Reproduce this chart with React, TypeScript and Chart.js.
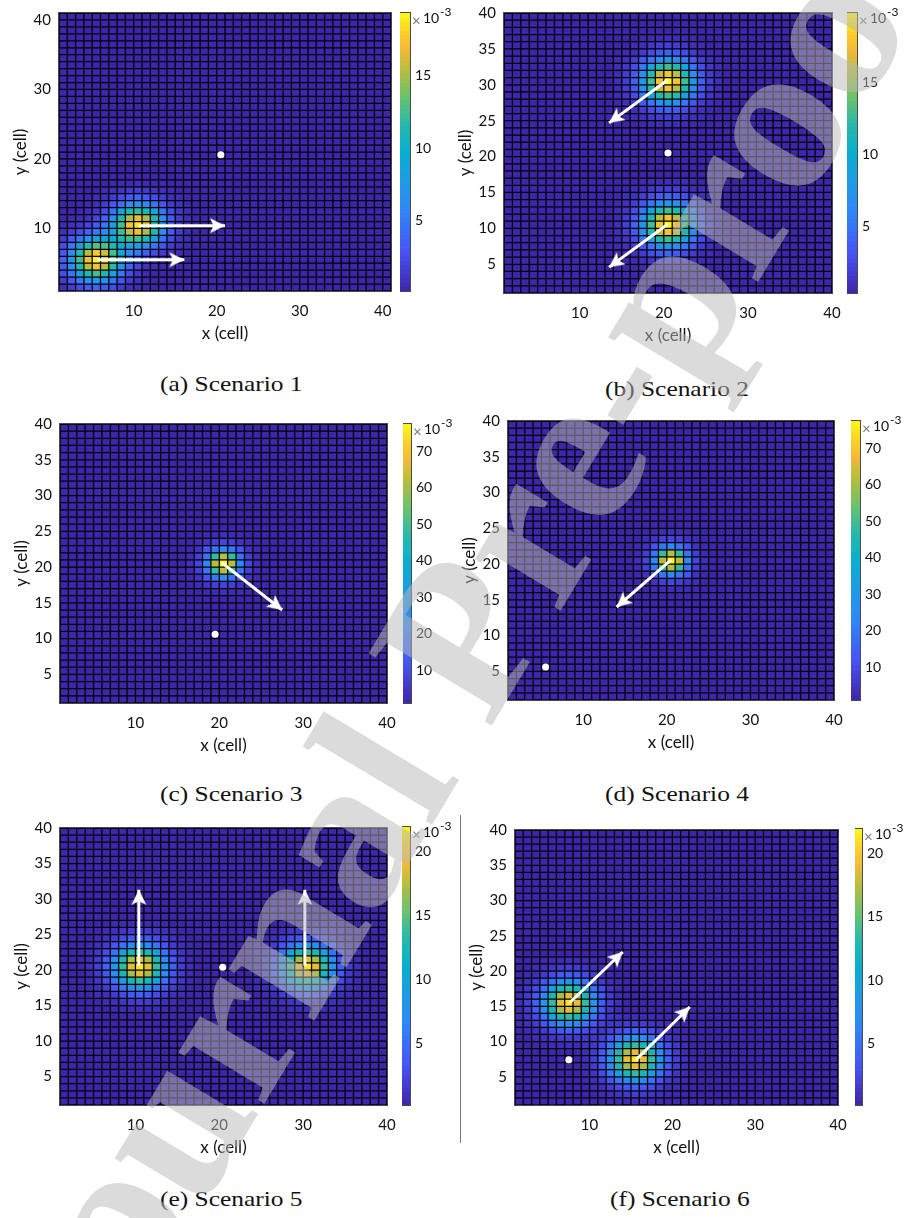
import React, { useEffect, useRef } from "react";
import Chart from "chart.js/auto";

const parulaStops: number[][] = [
  [0, 62, 38, 168], [0.14, 72, 82, 244], [0.29, 46, 135, 247], [0.4, 30, 155, 228],
  [0.5, 6, 174, 207], [0.6, 38, 186, 171], [0.7, 107, 194, 107], [0.8, 186, 189, 61],
  [0.87, 242, 186, 56], [0.93, 252, 207, 41], [1, 249, 251, 21],
];

// Share of a blob's peak, read cell by cell around its brightest cell.
const wideBlob: number[][] = [
  [0, 0, 0, 0.01, 0.02, 0.02, 0.03, 0.02, 0.02, 0.01, 0, 0, 0],
  [0, 0, 0.02, 0.03, 0.05, 0.07, 0.08, 0.07, 0.05, 0.03, 0.02, 0, 0],
  [0, 0.02, 0.03, 0.07, 0.12, 0.16, 0.19, 0.16, 0.12, 0.07, 0.03, 0.02, 0],
  [0.01, 0.03, 0.07, 0.15, 0.24, 0.33, 0.38, 0.33, 0.24, 0.15, 0.07, 0.03, 0.01],
  [0.02, 0.05, 0.12, 0.24, 0.44, 0.58, 0.64, 0.58, 0.44, 0.24, 0.12, 0.05, 0.02],
  [0.02, 0.07, 0.16, 0.33, 0.58, 0.8, 0.89, 0.8, 0.58, 0.33, 0.16, 0.07, 0.02],
  [0.03, 0.08, 0.19, 0.38, 0.64, 0.89, 1, 0.89, 0.64, 0.38, 0.19, 0.08, 0.03],
  [0.02, 0.07, 0.16, 0.33, 0.58, 0.8, 0.89, 0.8, 0.58, 0.33, 0.16, 0.07, 0.02],
  [0.02, 0.05, 0.12, 0.24, 0.44, 0.58, 0.64, 0.58, 0.44, 0.24, 0.12, 0.05, 0.02],
  [0.01, 0.03, 0.07, 0.15, 0.24, 0.33, 0.38, 0.33, 0.24, 0.15, 0.07, 0.03, 0.01],
  [0, 0.02, 0.03, 0.07, 0.12, 0.16, 0.19, 0.16, 0.12, 0.07, 0.03, 0.02, 0],
  [0, 0, 0.02, 0.03, 0.05, 0.07, 0.08, 0.07, 0.05, 0.03, 0.02, 0, 0],
  [0, 0, 0, 0.01, 0.02, 0.02, 0.03, 0.02, 0.02, 0.01, 0, 0, 0],
];
const narrowBlob: number[][] = [
  [0, 0, 0.01, 0.02, 0.03, 0.02, 0.01, 0, 0],
  [0, 0.02, 0.04, 0.08, 0.1, 0.08, 0.04, 0.02, 0],
  [0.01, 0.04, 0.14, 0.24, 0.3, 0.24, 0.14, 0.04, 0.01],
  [0.02, 0.08, 0.24, 0.62, 0.8, 0.62, 0.24, 0.08, 0.02],
  [0.03, 0.1, 0.3, 0.8, 1, 0.8, 0.3, 0.1, 0.03],
  [0.02, 0.08, 0.24, 0.62, 0.8, 0.62, 0.24, 0.08, 0.02],
  [0.01, 0.04, 0.14, 0.24, 0.3, 0.24, 0.14, 0.04, 0.01],
  [0, 0.02, 0.04, 0.08, 0.1, 0.08, 0.04, 0.02, 0],
  [0, 0, 0.01, 0.02, 0.03, 0.02, 0.01, 0, 0],
];

const sparseYTicks = [10, 20, 30, 40];
const denseYTicks = [5, 10, 15, 20, 25, 30, 35, 40];
const xTicks = [10, 20, 30, 40];

const scenario1Blobs = [[10, 10, 18.5], [5, 5, 19]];
const scenario2Blobs = [[20, 30, 19.5], [20, 10, 19.5]];
const scenario3Blobs = [[20, 20, 76]];
const scenario4Blobs = [[20, 20, 76]];
const scenario5Blobs = [[10, 20, 21], [30, 20, 21]];
const scenario6Blobs = [[7, 15, 21], [15, 7, 21]];

const scenario1Arrows = [[10.6, 10.4, 21, 10.4], [5.6, 5.5, 16.1, 5.5]];
const scenario2Arrows = [[20.5, 30.7, 13.5, 24.7], [20.5, 10.6, 13.5, 4.6]];
const scenario3Arrows = [[20.3, 20.6, 27.5, 14]];
const scenario4Arrows = [[20.5, 20.6, 14, 14]];
const scenario5Arrows = [[10.4, 20.6, 10.4, 31.3], [30.2, 20.6, 30.2, 31.3]];
const scenario6Arrows = [[7.6, 15.5, 14, 22.7], [15.6, 7.4, 22.1, 14.9]];

const scenario1Dot = [20.5, 20.6];
const scenario2Dot = [20.5, 20.5];
const scenario3Dot = [19.5, 10.6];
const scenario4Dot = [5.5, 5.6];
const scenario5Dot = [20.4, 20.4];
const scenario6Dot = [7.5, 7.4];

const ticks20 = [5, 10, 15, 20];
const ticks15 = [5, 10, 15];
const ticks70 = [10, 20, 30, 40, 50, 60, 70];

const captions = ["(a) Scenario 1", "(b) Scenario 2", "(c) Scenario 3", "(d) Scenario 4", "(e) Scenario 5", "(f) Scenario 6"];

type Box = { l: number; t: number; r: number; b: number };
type PanelSpec = {
  plot: Box; bar: Box; range: number[]; axisMax: number; blobs: number[][]; patch: number[][];
  arrows: number[][]; dot: number[]; yTicks: number[]; barTicks: number[];
  caption: string; capX: number; capY: number;
};

const panels: PanelSpec[] = [
  { plot: { l: 59, t: 13, r: 391, b: 291 }, bar: { l: 400, t: 13, r: 410, b: 291 }, range: [0.2, 19.25], axisMax: 41, blobs: scenario1Blobs, patch: wideBlob, arrows: scenario1Arrows, dot: scenario1Dot, yTicks: sparseYTicks, barTicks: ticks15, caption: captions[0], capX: 160, capY: 384 },
  { plot: { l: 504, t: 13, r: 832, b: 293 }, bar: { l: 847, t: 13, r: 857, b: 293 }, range: [0.35, 19.8], axisMax: 40, blobs: scenario2Blobs, patch: wideBlob, arrows: scenario2Arrows, dot: scenario2Dot, yTicks: denseYTicks, barTicks: ticks15, caption: captions[1], capX: 605, capY: 389 },
  { plot: { l: 60, t: 424, r: 387, b: 703 }, bar: { l: 403, t: 424, r: 411, b: 703 }, range: [1, 77.4], axisMax: 40, blobs: scenario3Blobs, patch: narrowBlob, arrows: scenario3Arrows, dot: scenario3Dot, yTicks: denseYTicks, barTicks: ticks70, caption: captions[2], capX: 160, capY: 794 },
  { plot: { l: 508, t: 421, r: 834, b: 700 }, bar: { l: 851, t: 421, r: 860, b: 700 }, range: [1, 77.4], axisMax: 40, blobs: scenario4Blobs, patch: narrowBlob, arrows: scenario4Arrows, dot: scenario4Dot, yTicks: denseYTicks, barTicks: ticks70, caption: captions[3], capX: 605, capY: 794 },
  { plot: { l: 60, t: 828, r: 387, b: 1105 }, bar: { l: 402, t: 827, r: 410, b: 1105 }, range: [0.16, 21.9], axisMax: 40, blobs: scenario5Blobs, patch: wideBlob, arrows: scenario5Arrows, dot: scenario5Dot, yTicks: denseYTicks, barTicks: ticks20, caption: captions[4], capX: 160, capY: 1199 },
  { plot: { l: 515, t: 830, r: 838, b: 1105 }, bar: { l: 855, t: 829, r: 862, b: 1105 }, range: [0.16, 21.9], axisMax: 40, blobs: scenario6Blobs, patch: wideBlob, arrows: scenario6Arrows, dot: scenario6Dot, yTicks: denseYTicks, barTicks: ticks20, caption: captions[5], capX: 610, capY: 1199 },
];

function parula(t: number): string {
  const v = Math.max(0, Math.min(1, t));
  for (let i = 1; i < parulaStops.length; i++) {
    const a = parulaStops[i - 1], b = parulaStops[i];
    if (v <= b[0]) {
      const f = (v - a[0]) / (b[0] - a[0]);
      return `rgb(${Math.round(a[1] + (b[1] - a[1]) * f)},${Math.round(a[2] + (b[2] - a[2]) * f)},${Math.round(a[3] + (b[3] - a[3]) * f)})`;
    }
  }
  return "rgb(249,251,21)";
}

function cellsFor(p: PanelSpec) {
  const n = p.axisMax - 1;
  const grid: number[][] = Array.from({ length: n }, () => new Array(n).fill(p.range[0]));
  const half = (p.patch.length - 1) / 2;
  for (const [cx, cy, peak] of p.blobs) {
    p.patch.forEach((row, r) => row.forEach((share, c) => {
      const gx = cx + c - half - 1, gy = cy + r - half - 1;
      if (gx >= 0 && gx < n && gy >= 0 && gy < n) grid[gy][gx] += share * peak;
    }));
  }
  const data: any[] = [];
  const colors: string[] = [];
  grid.forEach((row, j) => row.forEach((v, i) => {
    data.push({ x: i + 1.5, y: [j + 1, j + 2] });
    colors.push(parula((v - p.range[0]) / (p.range[1] - p.range[0])));
  }));
  return { data, colors };
}

const framePlugin = {
  id: "frame",
  afterDatasetsDraw(chart: any) {
    const { left, top, right, bottom } = chart.chartArea;
    const c = chart.ctx;
    c.save();
    c.strokeStyle = "#4a4a4a";
    c.lineWidth = 1;
    c.strokeRect(Math.round(left) - 0.5, Math.round(top) - 0.5, Math.round(right - left) + 1, Math.round(bottom - top) + 1);
    c.restore();
  },
};

function makeArrowHead() {
  const cv = document.createElement("canvas");
  cv.width = 40; cv.height = 40;
  const c = cv.getContext("2d")!;
  c.fillStyle = "#fff";
  c.beginPath();
  c.moveTo(20, 20); c.lineTo(27.5, 35); c.lineTo(20, 31.5); c.lineTo(12.5, 35); c.closePath();
  c.fill();
  return cv;
}

function noPadding(s: any) {
  s.paddingTop = 0; s.paddingBottom = 0; s.paddingLeft = 0; s.paddingRight = 0;
}

function gridLines(max: number) {
  const edges = Array.from({ length: max }, (_, i) => i + 1);
  const horizontal = edges.flatMap((e, k) => (k % 2 ? [{ x: max, y: e }, { x: 1, y: e }] : [{ x: 1, y: e }, { x: max, y: e }]));
  const vertical = edges.flatMap((e, k) => (k % 2 ? [{ x: e, y: max }, { x: e, y: 1 }] : [{ x: e, y: 1 }, { x: e, y: max }]));
  return [horizontal, vertical].map((data) => ({
    type: "line", order: 3, data, borderColor: "#000", borderWidth: 1.25, pointRadius: 0, tension: 0, borderJoinStyle: "bevel",
  }));
}

const tickFont = { family: "Lato, 'Open Sans', sans-serif", size: 15 };
const titleFont = { family: "Lato, 'Open Sans', sans-serif", size: 17 };

function HeatPanel({ p }: { p: PanelSpec }) {
  const ref = useRef<HTMLCanvasElement>(null);
  const mL = 60, mT = 12, mR = 12, mB = 56;
  useEffect(() => {
    const { data, colors } = cellsFor(p);
    const head = makeArrowHead();
    const arrowSets = p.arrows.map(([x0, y0, x1, y1]) => ({
      type: "line",
      order: 1,
      data: [{ x: x0, y: y0 }, { x: x1, y: y1 }],
      borderColor: "#fff",
      borderWidth: 3,
      pointRadius: [0, 12],
      pointStyle: head,
      pointRotation: (ctx: any) => {
        const sx = ctx.chart.scales.x, sy = ctx.chart.scales.y;
        const dx = sx.getPixelForValue(x1) - sx.getPixelForValue(x0);
        const dy = sy.getPixelForValue(y1) - sy.getPixelForValue(y0);
        return (Math.atan2(dx, -dy) * 180) / Math.PI;
      },
    }));
    const chart = new Chart(ref.current!, {
      type: "bar",
      data: {
        datasets: [
          {
            type: "scatter", order: 0, data: [{ x: p.dot[0], y: p.dot[1] }],
            pointRadius: 3.5, pointBackgroundColor: "#fff", pointBorderWidth: 0,
          },
          ...arrowSets,
          ...gridLines(p.axisMax),
          {
            type: "bar", order: 5, data, backgroundColor: colors, borderWidth: 0,
            barPercentage: 1, categoryPercentage: 1, grouped: false,
          },
        ],
      } as any,
      options: {
        animation: false, responsive: false, devicePixelRatio: 1, events: [],
        layout: { autoPadding: false, padding: { left: 0, top: mT, right: mR, bottom: 0 } },
        plugins: { legend: { display: false }, tooltip: { enabled: false } },
        scales: {
          x: {
            type: "linear", offset: false, min: 1, max: p.axisMax, grid: { display: false, drawTicks: false, tickLength: 0 }, border: { display: false },
            afterBuildTicks: (s: any) => { s.ticks = xTicks.map((value) => ({ value })); },
            afterFit: (s: any) => { s.height = mB; noPadding(s); },
            ticks: { autoSkip: false, maxRotation: 0, padding: 11, color: "#111", font: tickFont },
            title: { display: true, text: "x (cell)", color: "#111", font: titleFont, padding: { top: 0, bottom: 3 } },
          },
          y: {
            type: "linear", min: 1, max: p.axisMax, grid: { display: false, drawTicks: false, tickLength: 0 }, border: { display: false },
            afterBuildTicks: (s: any) => { s.ticks = p.yTicks.map((value) => ({ value })); },
            afterFit: (s: any) => { s.width = mL; noPadding(s); },
            ticks: { autoSkip: false, padding: 8, color: "#111", font: tickFont },
            title: { display: true, text: "y (cell)", color: "#111", font: titleFont, padding: { top: 11, bottom: 0 } },
          },
        },
      } as any,
      plugins: [framePlugin],
    });
    return () => chart.destroy();
  }, [p]);
  return (
    <canvas
      ref={ref}
      width={p.plot.r - p.plot.l + mL + mR}
      height={p.plot.b - p.plot.t + mT + mB}
      style={{ position: "absolute", left: p.plot.l - mL, top: p.plot.t - mT, width: p.plot.r - p.plot.l + mL + mR, height: p.plot.b - p.plot.t + mT + mB }}
    />
  );
}

function ColorBar({ p }: { p: PanelSpec }) {
  const ref = useRef<HTMLCanvasElement>(null);
  const mR = 36, mV = 10;
  const w = p.bar.r - p.bar.l + mR;
  const h = p.bar.b - p.bar.t + 2 * mV;
  useEffect(() => {
    const levels = 64;
    const [lo, hi] = p.range;
    const data: any[] = [];
    const colors: string[] = [];
    for (let i = 0; i < levels; i++) {
      data.push({ x: "c", y: [lo + ((hi - lo) * i) / levels, lo + ((hi - lo) * (i + 1)) / levels] });
      colors.push(parula((i + 0.5) / levels));
    }
    const chart = new Chart(ref.current!, {
      type: "bar",
      data: {
        labels: ["c"],
        datasets: [{ data, backgroundColor: colors, borderWidth: 0, barPercentage: 1, categoryPercentage: 1 }],
      } as any,
      options: {
        animation: false, responsive: false, devicePixelRatio: 1, events: [],
        layout: { autoPadding: false, padding: { left: 0, top: mV, right: 0, bottom: mV } },
        plugins: { legend: { display: false }, tooltip: { enabled: false } },
        scales: {
          x: { type: "category", display: false },
          y: {
            type: "linear", position: "right", min: lo, max: hi,
            grid: { display: true, drawOnChartArea: false, drawTicks: true, tickLength: -3, color: "#555" },
            border: { display: false },
            afterBuildTicks: (s: any) => { s.ticks = p.barTicks.map((value) => ({ value })); },
            afterFit: (s: any) => { s.width = mR; noPadding(s); },
            ticks: { autoSkip: false, padding: 8, color: "#111", font: { family: "Lato, sans-serif", size: 14 } },
          },
        },
      } as any,
      plugins: [framePlugin],
    });
    return () => chart.destroy();
  }, [p]);
  return (
    <>
      <canvas ref={ref} width={w} height={h} style={{ position: "absolute", left: p.bar.l, top: p.bar.t - mV, width: w, height: h }} />
      <span style={{ position: "absolute", left: p.bar.r + 2, top: p.bar.t - 1, font: "15px Lato, sans-serif", color: "#777", lineHeight: "16px" }}>×</span>
      <span style={{ position: "absolute", left: p.bar.r + 13, top: p.bar.t - 3, font: "14px Lato, sans-serif", color: "#111", lineHeight: "16px" }}>10</span>
      <span style={{ position: "absolute", left: p.bar.r + 30, top: p.bar.t - 8, font: "12px Lato, sans-serif", color: "#111", lineHeight: "14px" }}>-3</span>
    </>
  );
}

export default function App() {
  return (
    <div style={{ position: "absolute", left: 0, top: 0, width: 906, height: 1218, overflow: "hidden", background: "#fff" }}>
      {panels.map((p) => (
        <React.Fragment key={p.caption}>
          <HeatPanel p={p} />
          <ColorBar p={p} />
          <div style={{ position: "absolute", left: p.capX, top: p.capY - 12, font: "21px 'Liberation Serif', serif", color: "#111", lineHeight: "24px", whiteSpace: "pre", transform: "scaleX(1.21)", transformOrigin: "0 50%" }}>{p.caption}</div>
        </React.Fragment>
      ))}
      <div style={{ position: "absolute", left: 460, top: 815, width: 1, height: 328, background: "#777" }} />
      <div
        style={{
          position: "absolute", left: 24, top: 1242, height: 240, whiteSpace: "pre",
          font: "bold 218px/240px 'Liberation Serif', serif", color: "rgba(184,184,184,0.51)",
          transform: "rotate(-59deg)", transformOrigin: "0 50%", pointerEvents: "none",
        }}
      >
        Journal Pre-proof
      </div>
    </div>
  );
}
